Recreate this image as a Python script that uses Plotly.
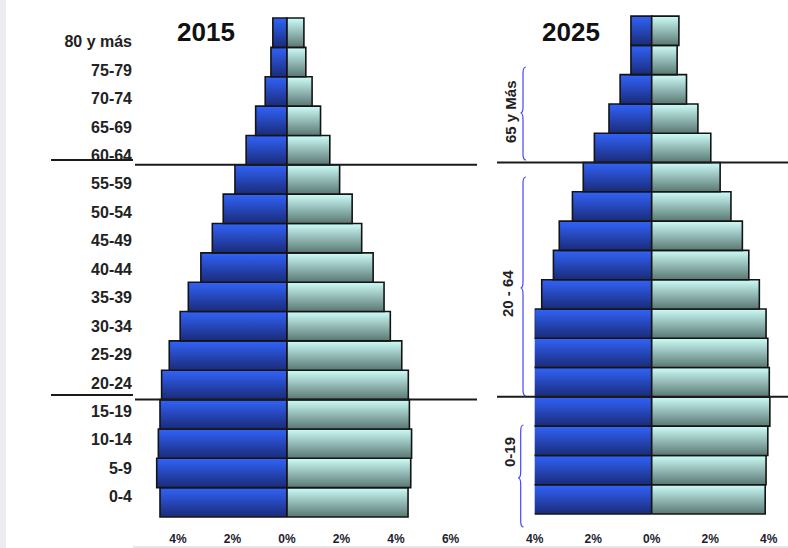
import plotly.graph_objects as go

# ---------------- data ----------------
ages = ["0-4", "5-9", "10-14", "15-19", "20-24", "25-29", "30-34", "35-39", "40-44",
        "45-49", "50-54", "55-59", "60-64", "65-69", "70-74", "75-79", "80 y más"]
men_2015 = [4.66, 4.78, 4.72, 4.66, 4.60, 4.32, 3.92, 3.62, 3.16, 2.74, 2.34, 1.91, 1.50, 1.15, 0.80, 0.59, 0.52]
women_2015 = [4.44, 4.54, 4.57, 4.49, 4.45, 4.21, 3.79, 3.56, 3.16, 2.74, 2.39, 1.93, 1.57, 1.23, 0.92, 0.69, 0.62]
men_2025 = [4.05, 4.05, 4.05, 4.05, 4.05, 4.05, 4.01, 3.76, 3.36, 3.16, 2.71, 2.34, 1.96, 1.46, 1.08, 0.71, 0.71]
women_2025 = [3.88, 3.91, 3.97, 4.04, 4.02, 3.97, 3.91, 3.68, 3.32, 3.10, 2.71, 2.34, 2.02, 1.58, 1.19, 0.87, 0.93]
titles = ["2015", "2025"]
ticks_2015 = [-4, -2, 0, 2, 4, 6]
ticks_2025 = [-4, -2, 0, 2, 4]
group_labels = ["65 y Más", "20 - 64", "0-19"]

W, H = 788, 548
def px(x):
    return x / W
def py(y):
    return (H - y) / H

BLUE = [[0, "#1a2b78"], [1, "#3163fa"]]
CYAN = [[0, "#5a7773"], [1, "#cdfdf8"]]

fig = go.Figure()

def add_bars(values, sign, scale, xa, ya):
    for i, v in enumerate(values):
        x = [0, sign * v, sign * v, 0, 0]
        y = [i - 0.5, i - 0.5, i + 0.5, i + 0.5, i - 0.5]
        fig.add_trace(go.Scatter(
            x=x, y=y, mode="lines", fill="toself",
            fillgradient=dict(type="vertical", colorscale=scale, start=i - 0.5, stop=i + 0.5),
            line=dict(color="#141414", width=1.6),
            xaxis=xa, yaxis=ya, showlegend=False, hoverinfo="skip"))

add_bars(men_2015, -1, BLUE, "x", "y")
add_bars(women_2015, 1, CYAN, "x", "y")
add_bars(men_2025, -1, BLUE, "x2", "y2")
add_bars(women_2025, 1, CYAN, "x2", "y2")

# invisible trace for the age label axis
fig.add_trace(go.Scatter(x=[None], y=[None], xaxis="x", yaxis="y3", showlegend=False, hoverinfo="skip"))

ydom = [py(530), 1]
tickfont = dict(family="Liberation Sans, Arial", size=12, color="#1e1e30", weight="bold")

fig.update_layout(
    width=W, height=H, margin=dict(l=0, r=0, t=0, b=0, autoexpand=False),
    paper_bgcolor="white", plot_bgcolor="rgba(0,0,0,0)",
    xaxis=dict(domain=[px(133), px(477)], range=[-5.65, 6.97], tickvals=ticks_2015,
               ticktext=[f"{abs(t)}%" for t in ticks_2015], showgrid=False, zeroline=False,
               showline=False, ticks="", tickfont=tickfont, anchor="y", automargin=False),
    yaxis=dict(domain=ydom, range=[-0.943, 17.115], showticklabels=False, showgrid=False,
               zeroline=False, showline=False, ticks="", anchor="x", automargin=False),
    yaxis3=dict(domain=ydom, range=[-1.171, 17.465], tickvals=list(range(len(ages))), ticktext=ages,
                overlaying="y", side="left", anchor="x", showgrid=False, zeroline=False,
                showline=False, ticks="", automargin=False,
                tickfont=dict(family="Liberation Sans, Arial", size=16, color="#222222", weight="bold")),
    xaxis2=dict(domain=[px(534.7), 1], range=[-4, 4.66], tickvals=ticks_2025,
                ticktext=[f"{abs(t)}%" for t in ticks_2025], showgrid=False, zeroline=False,
                showline=False, ticks="", tickfont=tickfont, anchor="y2", automargin=False),
    yaxis2=dict(domain=ydom, range=[-1.046, 17.049], showticklabels=False, showgrid=False,
                zeroline=False, showline=False, ticks="", anchor="x2", automargin=False),
)

shapes = []
# background slide artefacts
shapes.append(dict(type="rect", xref="paper", yref="paper", x0=0, x1=px(6), y0=0, y1=1,
                   fillcolor="#ebebf0", line=dict(width=0), layer="below"))
shapes.append(dict(type="rect", xref="paper", yref="paper", x0=px(133), x1=1, y0=0, y1=py(546),
                   fillcolor="#e6e6ea", line=dict(width=0), layer="below"))
# divider lines
for yv, ypix in [(11.5, 160), (3.5, 395)]:
    shapes.append(dict(type="line", xref="paper", yref="paper", x0=px(51), x1=px(133),
                       y0=py(ypix), y1=py(ypix), line=dict(color="#1a1a1a", width=2)))
    shapes.append(dict(type="line", xref="paper", yref="y", x0=px(135), x1=px(477),
                       y0=yv, y1=yv, line=dict(color="#1a1a1a", width=2)))
    shapes.append(dict(type="line", xref="paper", yref="y2", x0=px(497), x1=1,
                       y0=yv, y1=yv, line=dict(color="#1a1a1a", width=2)))

# curly braces
def brace(xv, xe, xt, y0, y1, ym):
    d = 6
    pts = (f"M {px(xe)},{py(y0)} Q {px(xv)},{py(y0)} {px(xv)},{py(y0 + d)} "
           f"L {px(xv)},{py(ym - d)} Q {px(xv)},{py(ym)} {px(xt)},{py(ym)} "
           f"Q {px(xv)},{py(ym)} {px(xv)},{py(ym + d)} "
           f"L {px(xv)},{py(y1 - d)} Q {px(xv)},{py(y1)} {px(xe)},{py(y1)}")
    return dict(type="path", xref="paper", yref="paper", path=pts,
                line=dict(color="#4646ff", width=1.2))

braces = [(523, 526, 520.5, 67, 160, 113), (523, 526, 520.5, 177, 396, 288), (520.7, 523.5, 518, 425, 527, 478)]
for b in braces:
    shapes.append(brace(*b))
fig.update_layout(shapes=shapes)

annotations = []
title_font = dict(family="Liberation Sans Narrow, Arial Narrow, Liberation Sans", size=26, color="#111111", weight="bold")
for t, xc in zip(titles, [206, 571]):
    annotations.append(dict(text=t, x=px(xc), y=py(32), xref="paper", yref="paper",
                            showarrow=False, font=title_font, xanchor="center", yanchor="middle"))
for lab, (xc, yc) in zip(group_labels, [(511, 112), (507, 294), (509, 452)]):
    annotations.append(dict(text=lab, x=px(xc), y=py(yc), xref="paper", yref="paper", textangle=-90,
                            showarrow=False, xanchor="center", yanchor="middle",
                            font=dict(family="Liberation Sans, Arial", size=15, color="#222222", weight="bold")))
fig.update_layout(annotations=annotations)

fig.write_html("out.html")
